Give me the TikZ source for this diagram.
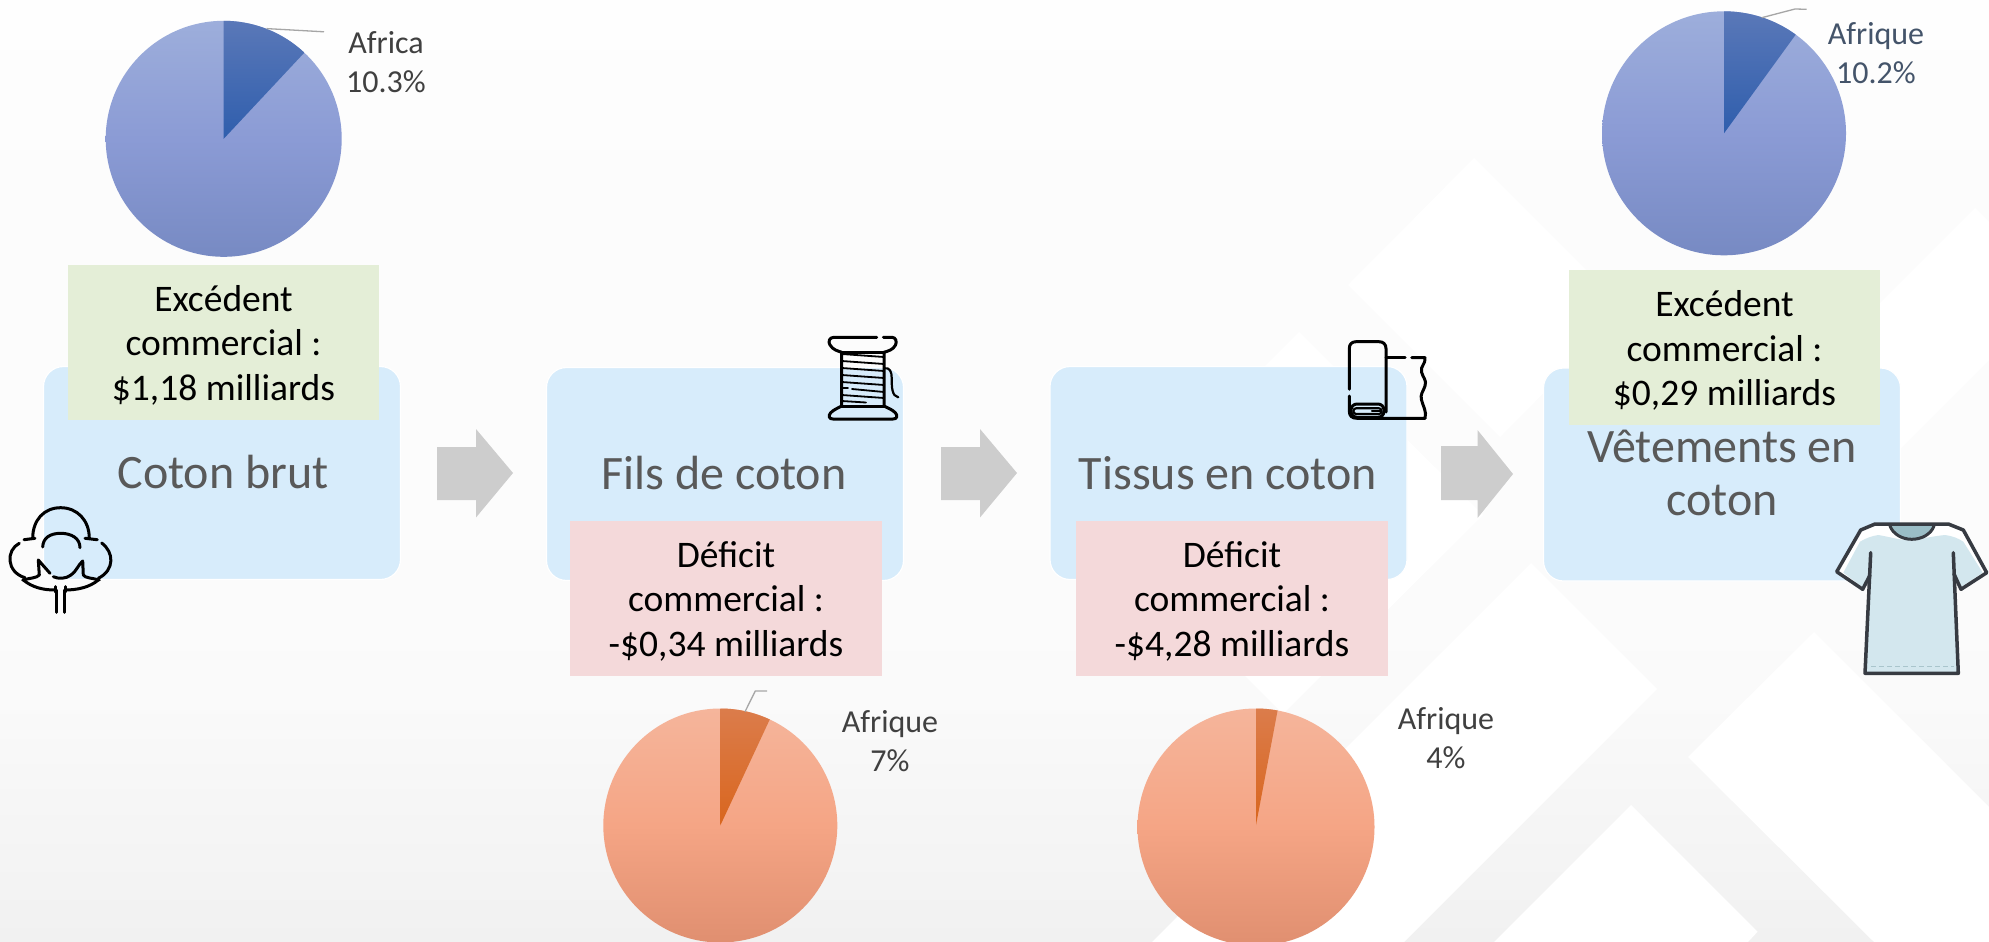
\documentclass[tikz,border=0pt]{standalone}
\usepackage{fontspec}
\setmainfont{Carlito}
\definecolor{bgA}{HTML}{FEFEFE}
\definecolor{bgB}{HTML}{FCFCFC}
\definecolor{bgC}{HTML}{FAFAFA}
\definecolor{bgC2}{HTML}{F6F6F6}
\definecolor{bgD}{HTML}{F1F1F1}
\definecolor{boxblue}{HTML}{D7ECFB}
\definecolor{boxgreen}{HTML}{E4EED7}
\definecolor{boxpink}{HTML}{F4D9DA}
\definecolor{arrowgrey}{HTML}{CDCDCD}
\definecolor{titlegrey}{HTML}{595959}
\definecolor{labelgrey}{HTML}{404040}
\definecolor{labelslate}{HTML}{44546A}
\definecolor{leadergrey}{HTML}{A6A6A6}
\definecolor{blueT}{HTML}{9DAEDB}
\definecolor{blueM}{HTML}{8B9BD5}
\definecolor{blueB}{HTML}{778AC3}
\definecolor{wedgeBT}{HTML}{5A78B8}
\definecolor{wedgeBB}{HTML}{2F5EAD}
\definecolor{orT}{HTML}{F5B59B}
\definecolor{orM}{HTML}{F5A585}
\definecolor{orB}{HTML}{E08F70}
\definecolor{wedgeOT}{HTML}{DB7C4B}
\definecolor{wedgeOB}{HTML}{D9661E}
\definecolor{teeline}{HTML}{373B42}
\definecolor{teefill}{HTML}{D3E7EE}
\definecolor{teecollar}{HTML}{9ABDC6}
\definecolor{teehem}{HTML}{A9C5CC}
\pgfdeclareverticalshading{bgs}{100bp}{color(0bp)=(bgD); color(25bp)=(bgD); color(32.5bp)=(bgC2); color(37.8bp)=(bgC); color(48.5bp)=(bgB); color(64.4bp)=(bgB); color(75bp)=(bgA); color(100bp)=(bgA)}
\tikzset{
  x=1pt,y=-1pt,
  stagebox/.style={rectangle,rounded corners=20pt,fill=boxblue,draw=white,line width=1.2pt,inner sep=0pt,
    minimum width=357pt,minimum height=213pt},
  stagetitle/.style={font=\fontsize{48}{53}\selectfont,text=titlegrey,align=center,inner sep=0pt},
  tradebox/.style={rectangle,inner sep=0pt,minimum width=311pt,minimum height=155pt,text=black},
  tradetext/.style={font=\fontsize{37.5}{44.5}\selectfont,text=black,align=center,inner sep=0pt},
  surplus/.style={tradebox,fill=boxgreen},
  deficit/.style={tradebox,fill=boxpink},
  pielabel/.style={font=\fontsize{32}{39}\selectfont,text=labelgrey,align=center,inner sep=0pt},
  leader/.style={draw=leadergrey,line width=1.3pt},
  blockarrow/.style={fill=arrowgrey},
  iconline/.style={draw=black,line width=3pt,line cap=round,line join=round},
  iconthin/.style={draw=black,line width=2.2pt,line cap=round,line join=round},
  bluepie/.style={top color=blueT,bottom color=blueB,middle color=blueM},
  orangepie/.style={top color=orT,bottom color=orB,middle color=orM},
  bluewedge/.style={top color=wedgeBT,bottom color=wedgeBB},
  orangewedge/.style={top color=wedgeOT,bottom color=wedgeOB},
}
\begin{document}
\begin{tikzpicture}
\useasboundingbox (0,0) rectangle (1989,942);
\begin{scope}
\clip (0,0) rectangle (1989,942);
% background
\shade[shading=bgs] (0,0) rectangle (1989,942);
\fill[white] (1474,158) -- (1348,285) -- (1500,437) -- (1626,310) -- cycle;
\fill[white] (1975,208) -- (1989,222) -- (1989,360) -- (1768,581) -- (1640,543) -- cycle;
\fill[white] (1299,332) -- (1483,515) -- (1283,714) -- (1100,531) -- cycle;
\fill[white] (1531,563) -- (1657,689) -- (1404,942) -- (1152,942) -- cycle;
\fill[white] (1631,805) -- (1757.6,931.7) -- (1748,942) -- (1494,942) -- cycle;
\fill[white] (1814,632) -- (1989,807) -- (1989,942) -- (1874,942) -- (1688,757) -- cycle;

% stage boxes
\node[stagebox] (s1) at (222,473) {};
\node[stagebox] (s2) at (725,474) {};
\node[stagebox] (s3) at (1228.5,473) {};
\node[stagebox] (s4) at (1722,474.5) {};
\node[stagetitle] (t1) at (223,472) {Coton brut};
\node[stagetitle] (t2) at (724,473) {Fils de coton};
\node[stagetitle] (t3) at (1228,473) {Tissus en coton};
\node[stagetitle] (t4) at (1722,473) {Vêtements en\\coton};

% block arrows
\fill[blockarrow] (437,447) -- (476,447) -- (476,429) -- (513,473) -- (476,517.5) -- (476,500) -- (437,500) -- cycle;
\fill[blockarrow] (941,447) -- (980,447) -- (980,429) -- (1017,473) -- (980,517.5) -- (980,500) -- (941,500) -- cycle;
\fill[blockarrow] (1441,446) -- (1477.5,446) -- (1477.5,430) -- (1513,474) -- (1477.5,518) -- (1477.5,500) -- (1441,500) -- cycle;

% trade boxes
\node[surplus] (g1) at (223.5,342.5) {};
\node[tradetext] at (223.5,345) {Excédent\\commercial :\\\$1,18 milliards};
\node[surplus] (g2) at (1724.5,347) {};
\node[tradetext] at (1724.5,350.5) {Excédent\\commercial :\\\$0,29 milliards};
\node[deficit,minimum width=312pt] (p1) at (726,598.5) {};
\node[tradetext] at (726,601) {Déficit\\commercial :\\-\$0,34 milliards};
\node[deficit,minimum width=312pt] (p2) at (1232,598.5) {};
\node[tradetext] at (1232,601) {Déficit\\commercial :\\-\$4,28 milliards};

% pies
\shade[bluepie] (223.7,138.8) circle[radius=118pt];
\shade[bluewedge] (223.7,138.8) -- (223.7,20.8) arc[start angle=90,end angle=46.9,radius=118pt] -- cycle;
\shade[bluepie] (1724,133.3) circle[radius=122pt];
\shade[bluewedge] (1724,133.3) -- (1724,11.3) arc[start angle=90,end angle=54,radius=122pt] -- cycle;
\shade[orangepie] (720.3,825.5) circle[radius=117pt];
\shade[orangewedge] (720.3,825.5) -- (720.3,708.5) arc[start angle=90,end angle=65,radius=117pt] -- cycle;
\shade[orangepie] (1256,827) circle[radius=118.5pt];
\shade[orangewedge] (1256,825) -- (1256,708.5) arc[start angle=90,end angle=79.5,radius=118.5pt] -- cycle;

% pie labels and leaders
\node[pielabel] (l1) at (386,62) {Africa\\10.3\%};
\node[pielabel,text=labelslate] (l4) at (1876,53.5) {Afrique\\10.2\%};
\node[pielabel] (l2) at (890,741.5) {Afrique\\7\%};
\node[pielabel] (l3) at (1446,738) {Afrique\\4\%};
\coordinate (a1) at (266.7,28.6); \coordinate (b1) at (324,31.8);
\draw[leader] (a1) -- (b1);
\coordinate (a4) at (1761.7,17.7); \coordinate (k4) at (1795,9); \coordinate (b4) at (1806.7,9.3);
\draw[leader] (a4) -- (k4) -- (b4);
\coordinate (a2) at (745,711.7); \coordinate (k2) at (755.3,691); \coordinate (b2) at (767,691);
\draw[leader] (a2) -- (k2) -- (b2);

% cotton icon
\draw[iconline] (32.7,538.3) .. controls (32.7,520) and (44,507.7) .. (60.7,507.7) .. controls (77,507.7) and (89.3,520) .. (89.3,538.3);
\draw[iconline] (24,539.7) -- (35,538.3);
\draw[iconline] (85,538.3) -- (97.3,539.7);
\draw[iconline] (19.3,543.3) .. controls (6,550) and (6,572) .. (25,577.7);
\draw[iconline] (101.7,543) .. controls (114,552) and (115,570) .. (98.3,578.3);
\draw[iconline] (42.7,547) .. controls (43,538) and (50,533.3) .. (60.7,533.3) .. controls (71,533.3) and (80,538) .. (80,547.7);
\draw[iconline] (22.7,580) .. controls (30,578) and (37,578) .. (39.3,575) -- (38.3,560) -- (50,573.3);
\draw[iconline] (99.3,580) .. controls (92,578) and (85,578) .. (83.3,575) -- (82.7,561) .. controls (78,565) and (76,572) .. (71,575) .. controls (66,579) and (58,579) .. (53.3,576.7);
\draw[iconline] (23.3,580) .. controls (32,587) and (42,590) .. (55,590);
\draw[iconline] (65,590) .. controls (78,590) and (90,587) .. (98.3,580);
\draw[iconline] (55,586.7) -- (55,592);
\draw[iconline] (65,586.7) -- (65,592);
\draw[iconline] (56.7,590) -- (56.7,612.3);
\draw[iconline] (64.3,590) -- (64.3,612.3);

% spool icon
\draw[iconline] (876.7,337.3) -- (834,337.3) .. controls (829,337.3) and (828,342) .. (830,345) .. controls (833,350) and (838,351) .. (841.7,352.3) -- (841.7,406) .. controls (838,408) and (833,410) .. (830.5,413) .. controls (828,416) and (829,419) .. (833,419) -- (893,419) .. controls (897,419) and (898,416) .. (895.5,413) .. controls (893,410) and (888,408) .. (884,406) -- (884,352.3) .. controls (888,351) and (893,350) .. (895.5,345) .. controls (897,342) and (896,337.3) .. (892,337.3) -- (883.3,337.3);
\draw[iconline] (841.7,352.3) -- (884,352.3);
\draw[iconline] (841.7,406) -- (884,406);
\foreach \yy in {354,361,368,375,382} \draw[iconthin,line width=1.8pt] (841.7,\yy) -- (884,\yy+3);
\draw[iconthin,line width=1.8pt] (841.7,388) -- (848,388);
\draw[iconthin,line width=1.8pt] (852,389) -- (884,392);
\draw[iconthin,line width=1.8pt] (841.7,395) -- (884,398);
\draw[iconthin,line width=1.8pt] (841.7,401) -- (866,402.5);
\draw[iconthin] (884,368.3) .. controls (890,367) and (891.7,372) .. (891.7,378) .. controls (891.7,388) and (892,396) .. (898.3,397.3);

% fabric icon
\draw[iconline] (1349.3,389.3) -- (1349.3,348.5) .. controls (1349.3,344) and (1352,341.7) .. (1356,341.7) -- (1379,341.7) .. controls (1383,341.7) and (1386,344) .. (1386,348.5) -- (1386,412);
\draw[iconline] (1349.3,396) -- (1349.3,411) .. controls (1349.3,416) and (1352,418.3) .. (1357,418.3) -- (1425,418.3);
\draw[iconline,rounded corners=6pt] (1351,404) rectangle (1384,417.3);
\draw[iconthin,rounded corners=2.5pt] (1353.5,408.3) rectangle (1381.5,414);
\draw[iconthin] (1372,411) -- (1381,411);
\draw[iconline] (1386,357.7) -- (1405,357.7);
\draw[iconline] (1411.7,357.7) -- (1425,357.7) .. controls (1426,364) and (1420,366) .. (1421.5,372) .. controls (1423,378) and (1427,380) .. (1425,386) .. controls (1423,392) and (1420,394) .. (1421.5,400) .. controls (1423,406) and (1427,412) .. (1425,418.3);

% t-shirt icon
\fill[white] (1875,524) -- (1948.3,524) -- (1963.3,530) -- (1986.7,572.7) -- (1961,589.3) -- (1954,574) -- (1958.3,673.3) -- (1865,673.3) -- (1870,575) -- (1862.7,589.3) -- (1836.7,571.7) -- (1860.7,530) -- cycle;
\fill[teefill] (1843.3,572.7) -- (1860,541.7) .. controls (1866,538) and (1872,536) .. (1878.3,535) .. controls (1890,537) and (1900,540) .. (1906.7,540) .. controls (1916,540) and (1934,536) .. (1945,535) .. controls (1952,536) and (1958,538) .. (1963.3,541.7) -- (1982.7,572.7) -- (1961,587) -- (1954,574) -- (1958.3,673.3) -- (1865,673.3) -- (1870,575) -- (1862.7,587.3) -- cycle;
\fill[teecollar] (1890,525) .. controls (1893,534) and (1902,539.3) .. (1911.7,539.3) .. controls (1922,539.3) and (1931,534) .. (1934,525) -- cycle;
\draw[teeline,line width=3pt,line cap=round] (1890,526) .. controls (1893,534) and (1902,539.3) .. (1911.7,539.3) .. controls (1922,539.3) and (1931,534) .. (1934,526);
\draw[teehem,line width=1pt,dash pattern=on 5pt off 3pt] (1871,666) -- (1954,666);
\draw[teeline,line width=3.5pt,line join=round,line cap=round] (1870,575) -- (1862.7,589.3) -- (1836.7,571.7) -- (1860.7,530) -- (1875,524) -- (1948.3,524) -- (1963.3,530) -- (1986.7,572.7) -- (1961,589.3) -- (1954,574);
\draw[teeline,line width=3.5pt,line join=round,line cap=round] (1870.7,552.7) -- (1865,673.3) -- (1958.3,673.3) -- (1953.3,552.7);
\end{scope}
\end{tikzpicture}
\end{document}
